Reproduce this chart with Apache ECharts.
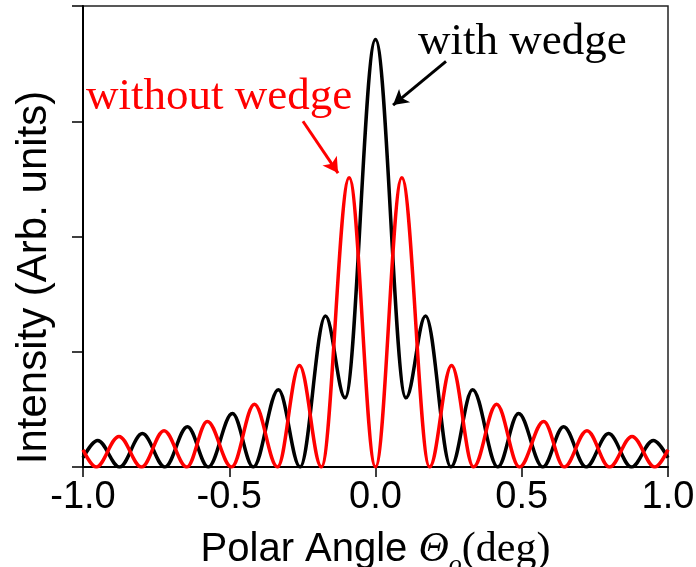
<!DOCTYPE html>
<html>
<head>
<meta charset="utf-8">
<script src="https://cdn.jsdelivr.net/npm/echarts@6/dist/echarts.min.js"></script>
<style>
  html, body { margin: 0; padding: 0; background: #fff; }
  #chart { width: 696px; height: 567px; }
</style>
</head>
<body>
<div id="chart"></div>
<script>
// with wedge (black): peaks and zeros
const withX = [-1.0, -0.95, -0.875, -0.797, -0.72, -0.643, -0.572, -0.489, -0.418, -0.332, -0.258, -0.171, -0.104, 0,
  0.104, 0.171, 0.258, 0.332, 0.418, 0.489, 0.572, 0.643, 0.72, 0.797, 0.875, 0.95, 1.0];
const withY = [0.08, 0.23, 0, 0.29, 0, 0.35, 0, 0.465, 0, 0.67, 0, 1.31, 0.6, 3.71,
  0.6, 1.31, 0, 0.67, 0, 0.465, 0, 0.35, 0, 0.29, 0, 0.23, 0.08];

// without wedge (red)
const withoutX = [-1.0, -0.955, -0.877, -0.8, -0.723, -0.645, -0.575, -0.492, -0.414, -0.335, -0.26, -0.185, -0.09, 0,
  0.09, 0.185, 0.26, 0.335, 0.414, 0.492, 0.575, 0.645, 0.723, 0.8, 0.877, 0.955, 1.0];
const withoutY = [0.15, 0, 0.265, 0, 0.315, 0, 0.395, 0, 0.545, 0, 0.88, 0, 2.51, 0,
  2.51, 0, 0.88, 0, 0.545, 0, 0.395, 0, 0.315, 0, 0.265, 0, 0.15];

const xTicks = [-1.0, -0.5, 0.0, 0.5, 1.0];

const toPairs = (xs, ys) => xs.map((x, i) => [x, ys[i]]);

const chart = echarts.init(document.getElementById("chart"));

const option = {
  animation: false,
  grid: {
    left: 83,
    right: 28,
    top: 6,
    bottom: 100,
    outerBoundsMode: "none",
    containLabel: false,
    show: true,
    borderColor: "#222",
    borderWidth: 1.5,
  },
  xAxis: {
    type: "value",
    min: xTicks[0],
    max: xTicks[xTicks.length - 1],
    interval: 0.5,
    axisLine: { onZero: false, lineStyle: { color: "#000", width: 2 } },
    axisTick: { inside: false, length: 10, lineStyle: { color: "#000", width: 1.5 } },
    axisLabel: {
      margin: 12,
      fontFamily: "Liberation Sans, Arial",
      fontSize: 38,
      color: "#000",
      formatter: (v) => v.toFixed(1),
    },
    splitLine: { show: false },
    name: "{a|Polar Angle }{b|Θ}{c|o}{d|(deg)}",
    nameLocation: "middle",
    nameGap: 52,
    nameTextStyle: {
      rich: {
        a: { fontFamily: "Liberation Sans, Arial", fontSize: 40, color: "#000", lineHeight: 44 },
        b: { fontFamily: "Liberation Serif, Times New Roman", fontStyle: "italic", fontSize: 42, color: "#000", lineHeight: 44 },
        c: { fontFamily: "Liberation Serif, Times New Roman", fontStyle: "italic", fontSize: 26, color: "#000", lineHeight: 44, padding: [30, 0, 0, 0] },
        d: { fontFamily: "Liberation Serif, Times New Roman", fontSize: 42, color: "#000", lineHeight: 44 },
      },
    },
  },
  yAxis: {
    type: "value",
    min: 0,
    max: 4,
    interval: 1,
    axisLine: { show: true, onZero: false, lineStyle: { color: "#000", width: 2 } },
    axisTick: { show: true, inside: false, length: 11, lineStyle: { color: "#000", width: 1.5 } },
    axisLabel: { show: false },
    splitLine: { show: false },
    name: "Intensity (Arb. units)",
    nameLocation: "middle",
    nameRotate: 90,
    nameGap: 28,
    nameTextStyle: {
      fontFamily: "Liberation Sans, Arial",
      fontSize: 42,
      color: "#000",
      padding: [0, 82, 0, 0],
    },
  },
  series: [
    {
      name: "with wedge",
      type: "line",
      data: toPairs(withX, withY),
      smooth: 0.36,
      smoothMonotone: "x",
      symbol: "none",
      lineStyle: { color: "#000", width: 3.5 },
      markLine: {
        silent: true,
        symbol: ["none", "arrow"],
        symbolSize: [13, 15],
        label: { show: false },
        lineStyle: { color: "#000", width: 3, type: "solid" },
        data: [[{ coord: [0.241, 3.52] }, { coord: [0.06, 3.14] }]],
      },
    },
    {
      name: "without wedge",
      type: "line",
      data: toPairs(withoutX, withoutY),
      smooth: 0.36,
      smoothMonotone: "x",
      symbol: "none",
      lineStyle: { color: "#ff0000", width: 3.5 },
      markLine: {
        silent: true,
        symbol: ["none", "arrow"],
        symbolSize: [13, 15],
        label: { show: false },
        lineStyle: { color: "#ff0000", width: 3, type: "solid" },
        data: [[{ coord: [-0.248, 3.0] }, { coord: [-0.128, 2.55] }]],
      },
    },
  ],
  graphic: [
    {
      type: "text",
      left: 418,
      top: 20,
      style: { text: "with wedge", font: "45px 'Liberation Serif', 'Times New Roman'", fill: "#000" },
    },
    {
      type: "text",
      left: 86,
      top: 75,
      style: { text: "without wedge", font: "45px 'Liberation Serif', 'Times New Roman'", fill: "#ff0000" },
    },
  ],
};

chart.setOption(option);
window.addEventListener("resize", () => chart.resize());
</script>
</body>
</html>
